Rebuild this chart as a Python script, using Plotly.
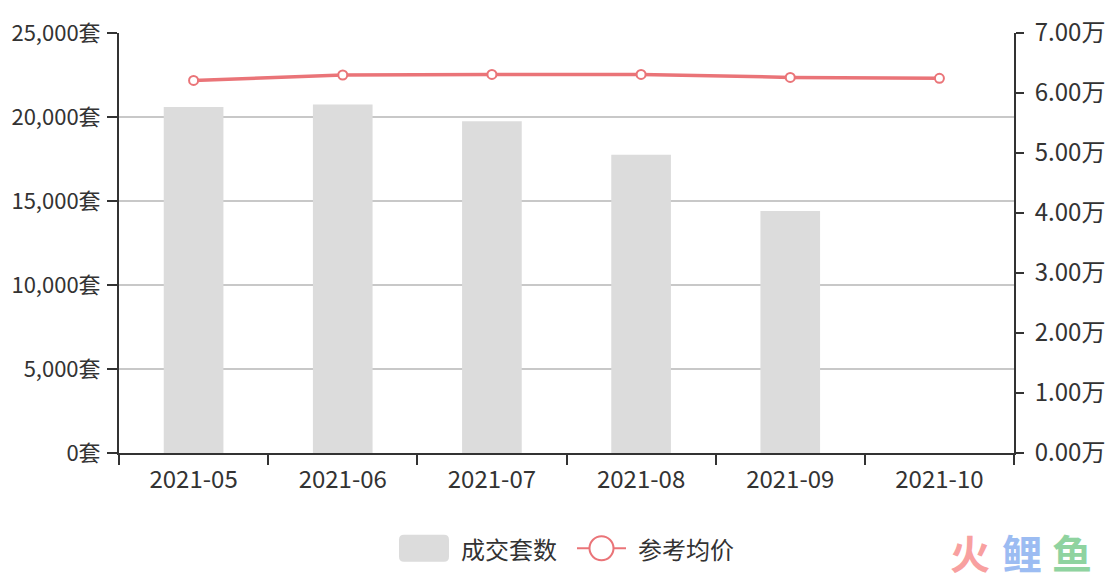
import plotly.graph_objects as go

months = ["2021-05", "2021-06", "2021-07", "2021-08", "2021-09", "2021-10"]
deals = [20600, 20750, 19750, 17750, 14400, None]
avg_price_wan = [6.21, 6.30, 6.31, 6.31, 6.26, 6.245]

left_ticks = [0, 5000, 10000, 15000, 20000, 25000]
left_labels = ["0套", "5,000套", "10,000套", "15,000套", "20,000套", "25,000套"]
right_ticks = [0, 1, 2, 3, 4, 5, 6, 7]
right_labels = ["0.00万", "1.00万", "2.00万", "3.00万", "4.00万", "5.00万", "6.00万", "7.00万"]
legend_names = ["成交套数", "参考均价"]

FONT = "Noto Sans CJK SC, Noto Sans, sans-serif"
TXT = "#333333"
RED = "#ea7478"
GRAY = "#dcdcdc"

# plot area in screen pixels (page has 8px body margin)
PL, PR, PT, PB = 119, 1014, 32.7, 452.7
PW, PH = PR - PL, PB - PT


def px(x):
    return (x - PL) / PW


def py(y):
    return (PB - y) / PH


fig = go.Figure()
fig.add_trace(go.Bar(
    x=months, y=deals, name=legend_names[0],
    marker=dict(color=GRAY, line=dict(width=0)),
    width=0.4, yaxis="y",
))
fig.add_trace(go.Scatter(
    x=months, y=avg_price_wan, name=legend_names[1], yaxis="y2",
    mode="lines+markers",
    line=dict(color=RED, width=3.5),
    marker=dict(symbol="circle", size=9, color="white", line=dict(color=RED, width=2)),
))

fig.update_layout(
    width=1118, height=580,
    margin=dict(l=111, r=112, t=25, b=135, autoexpand=False),
    paper_bgcolor="white", plot_bgcolor="white",
    font=dict(family=FONT, size=24, color=TXT),
    showlegend=False,
    xaxis=dict(
        type="category", showline=True, linecolor=TXT, linewidth=2,
        ticks="outside", tickson="boundaries", ticklen=10, tickwidth=2, tickcolor=TXT,
        showgrid=False, tickfont=dict(size=24, color=TXT), automargin=False,
        ticklabelstandoff=4,
    ),
    yaxis=dict(
        range=[0, 25000], tickvals=left_ticks, ticktext=left_labels,
        showline=True, linecolor=TXT, linewidth=2,
        ticks="outside", ticklen=10, tickwidth=2, tickcolor=TXT,
        showgrid=True, gridcolor="#c8c8c8", gridwidth=1.5,
        zeroline=False, tickfont=dict(size=22, color=TXT),
        ticklabelstandoff=2, automargin=False,
    ),
    yaxis2=dict(
        range=[0, 7], tickvals=right_ticks, ticktext=right_labels,
        overlaying="y", side="right",
        showline=True, linecolor=TXT, linewidth=2,
        ticks="outside", ticklen=8, tickwidth=2, tickcolor=TXT,
        showgrid=False, zeroline=False, tickfont=dict(size=24, color=TXT),
        ticklabelstandoff=6, automargin=False,
    ),
)

# custom legend (matches the large legend swatches of the reference)
LY = 548
r = 5
x0, x1, y0, y1 = 399, 449, LY - 13.5, LY + 13.5
path = (
    f"M {px(x0 + r)} {py(y0)} L {px(x1 - r)} {py(y0)} "
    f"Q {px(x1)} {py(y0)} {px(x1)} {py(y0 + r)} L {px(x1)} {py(y1 - r)} "
    f"Q {px(x1)} {py(y1)} {px(x1 - r)} {py(y1)} L {px(x0 + r)} {py(y1)} "
    f"Q {px(x0)} {py(y1)} {px(x0)} {py(y1 - r)} L {px(x0)} {py(y0 + r)} "
    f"Q {px(x0)} {py(y0)} {px(x0 + r)} {py(y0)} Z"
)
fig.add_shape(type="path", path=path, xref="paper", yref="paper",
              fillcolor=GRAY, line=dict(width=0))
fig.add_shape(type="line", xref="paper", yref="paper",
              x0=px(577), x1=px(626), y0=py(LY), y1=py(LY),
              line=dict(color=RED, width=2))
cr = 12
fig.add_shape(type="circle", xref="paper", yref="paper",
              x0=px(601.5 - cr), x1=px(601.5 + cr), y0=py(LY - cr), y1=py(LY + cr),
              fillcolor="white", line=dict(color=RED, width=2))
for name, xl in zip(legend_names, [459, 636]):
    fig.add_annotation(text=name, xref="paper", yref="paper", x=px(xl), y=py(LY),
                       xanchor="left", yanchor="middle", showarrow=False,
                       font=dict(size=24, color=TXT, family=FONT))

wm = [("火", "#f8a0a0", 970), ("鲤", "#9cbcf2", 1022), ("鱼", "#8fd3a0", 1072)]
for ch, col, xp in wm:
    fig.add_annotation(
        text=f"<b>{ch}</b>", xref="paper", yref="paper",
        x=px(xp), y=py(552),
        showarrow=False, font=dict(size=40, color=col, family=FONT),
        xanchor="center", yanchor="middle",
    )

fig.write_html("out.html")
